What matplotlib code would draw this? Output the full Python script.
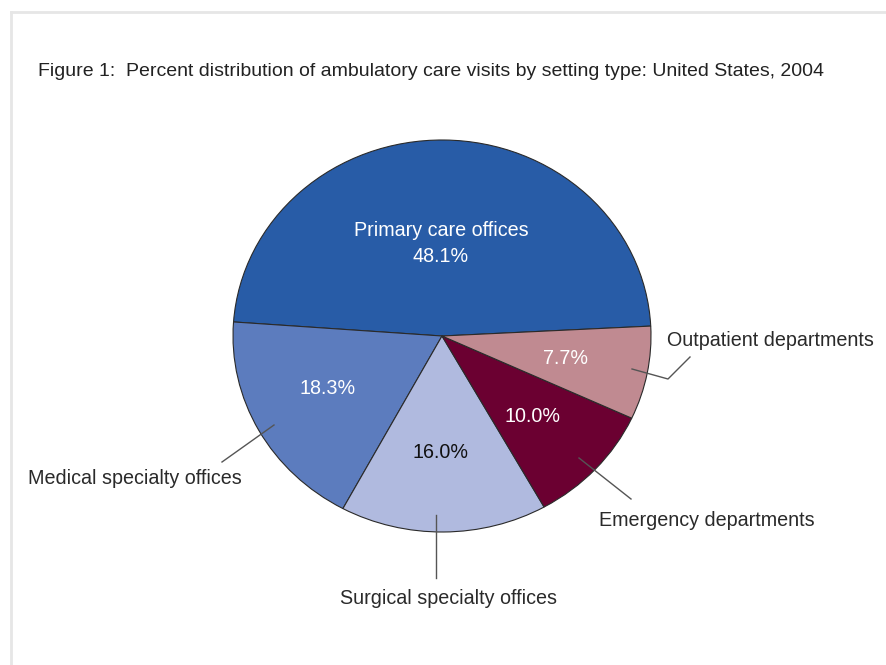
"""Percent distribution of ambulatory care visits by setting type, US 2004."""
import matplotlib
matplotlib.use("Agg")
import matplotlib.pyplot as plt
from matplotlib.lines import Line2D

# --- Data ---
settings = ["Primary care offices", "Medical specialty offices",
            "Surgical specialty offices", "Emergency departments",
            "Outpatient departments"]
percents = [48.1, 18.3, 16.0, 10.0, 7.7]
colors = ["#285ca7", "#5c7cbe", "#b0badf", "#6b0031", "#c08a91"]
pct_colors = ["white", "white", "#111111", "white", "white"]

plt.rcParams["font.family"] = ["Liberation Sans", "DejaVu Sans"]

W, H = 886, 665
fig = plt.figure(figsize=(W / 100, H / 100), dpi=100)


def fx(px):
    return px / W


def fy(py):
    return 1 - py / H


# pie sits in an axes box, slightly squashed like the original
cx, cy, rx, ry = 442, 336, 209, 196
ax = fig.add_axes([fx(cx - rx), fy(cy + ry), 2 * rx / W, 2 * ry / H])
ax.pie(percents, colors=colors, startangle=2.9, counterclock=True,
       wedgeprops=dict(edgecolor="#2a2a2a", linewidth=0.8))
ax.set_aspect("auto")
ax.set_xlim(-1, 1)
ax.set_ylim(-1, 1)
ax.axis("off")

# light frame at top/left
fig.add_artist(Line2D([fx(11), 1], [fy(12), fy(12)], color="#e6e6e6", lw=2))
fig.add_artist(Line2D([fx(11), fx(11)], [fy(12), 0], color="#e6e6e6", lw=2))

fig.text(fx(38), fy(72), "Figure 1:  Percent distribution of ambulatory care visits "
         "by setting type: United States, 2004", fontsize=14, color="#222222",
         va="center", ha="left")

fs = 14.2
# percent labels inside slices
pct_pos = [(441, 256), (328, 389), (441, 452), (532, 417), (566, 359)]
for (px, py), p, c in zip(pct_pos, percents, pct_colors):
    fig.text(fx(px), fy(py), f"{p:.1f}%", fontsize=fs, color=c,
             ha="center", va="center")
fig.text(fx(441), fy(231), settings[0], fontsize=fs, color="white",
         ha="center", va="center")

# outside labels with leader lines
lbl = dict(fontsize=fs, color="#2a2a2a", va="center")
fig.text(fx(28), fy(478), settings[1], ha="left", **lbl)
fig.text(fx(449), fy(599), settings[2], ha="center", **lbl)
fig.text(fx(599), fy(521), settings[3], ha="left", **lbl)
fig.text(fx(667), fy(340), settings[4], ha="left", **lbl)

leaders = [
    [(274, 425), (222, 462)],
    [(436, 515), (436, 578)],
    [(579, 458), (631, 499)],
    [(632, 369), (668, 379), (690, 357)],
]
for pts in leaders:
    xs = [fx(p[0]) for p in pts]
    ys = [fy(p[1]) for p in pts]
    fig.add_artist(Line2D(xs, ys, color="#555555", lw=1.0))

fig.savefig("out.png", dpi=100, facecolor="white")
